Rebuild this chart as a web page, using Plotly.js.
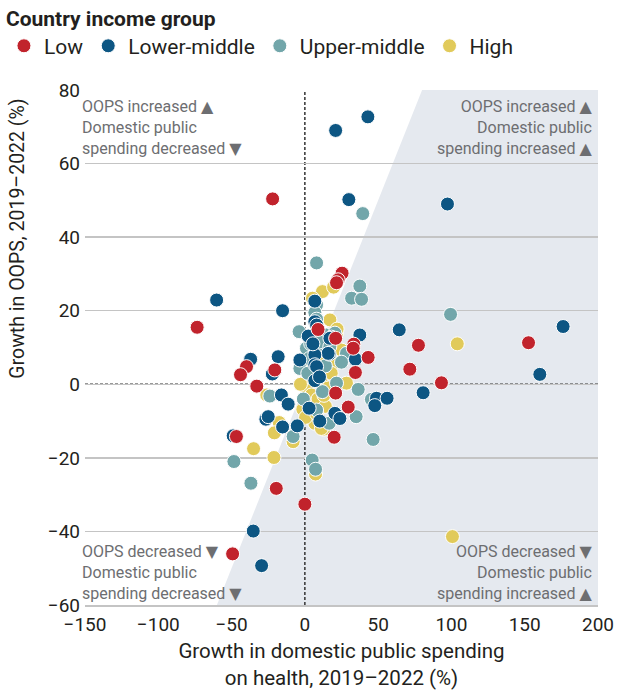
<!DOCTYPE html>
<html>
<head>
<meta charset="utf-8">
<script src="https://cdn.plot.ly/plotly-3.0.1.min.js"></script>
<style>
  html, body { margin: 0; padding: 0; background: #ffffff; }
  #chart { width: 621px; height: 693px; }
</style>
</head>
<body>
<div id="chart"></div>
<script>
// ---- Data ----
const groupNames = ["Low", "Lower-middle", "Upper-middle", "High"];

const lowX = [-22, -73.5, 25.4, 22.7, 21.6, 9, 21, 33.4, 33, 43.2, 34.5, -39.8, -43.9, -20.5, -32.8, 21, 29.6, 20, -46.7, -19.5, 0, -49.3, 77.5, 152.6, 71.6, 93.2];
const lowY = [50.4, 15.5, 30.2, 28.4, 27.6, 14.9, 12.5, 10.9, 9.8, 7.3, 3.2, 4.8, 2.6, 3.9, -0.5, -2.4, -6.2, -14.4, -14.2, -28.3, -32.6, -46.1, 10.6, 11.3, 4.1, 0.4];

const lmX = [21, 43, 30, 97.3, -60.2, -15.2, 6.8, 6.8, 8, 2.3, 18.2, 17.1, 37.5, 16.6, 15.9, 34.5, 6.8, 6.8, 8, -3.4, -18.2, -37, -22.2, 6.8, 64.4, 176.2, 160.3, 80.7, 48.9, 56.1, 47.7, -16, -11.4, 2.9, 20.5, 23.9, 10.2, -26.6, -25, -15.2, -5.2, -48.9, -35.2, -29.5, 5.5, 10];
const lmY = [69, 72.7, 50.2, 49, 22.9, 20, 22.6, 17, 16.1, 13.1, 12.8, 12.5, 13.4, 8.2, 8.4, 6.8, 8, 5.3, 4.8, 6.6, 7.5, 6.8, 2.8, 1.0, 14.8, 15.7, 2.7, -2.3, -3.8, -3.8, -5.8, -2.9, -5.4, -6.5, -7.9, -9.3, -10, -9.5, -8.8, -11.6, -11.3, -14, -39.9, -49.3, 11, 2];

const umX = [8, 39.5, 37.5, 31.9, 38.7, 8, 6.8, 8, -3.9, 14.6, 20.5, 1.1, 12.5, 28.4, -3.4, 12, 36.4, 45.4, -23.9, 8, 35, 16.6, -8, 46.6, 5, 7.3, -48.4, -36.8, 99.4, 21.6, 4, 10, 14, 25, 2, -1, 3, 17];
const umY = [33, 46.4, 26.7, 23.4, 23.1, 21.6, 19.5, 17.7, 14.3, 13.4, 13.9, 9.8, 9.3, 8.4, 4.3, -2, -1.4, -4.1, -3.2, -7, -8.8, -10.6, -14.2, -15, -20.6, -23.1, -21, -26.9, 19, 0.3, 11, 11.5, 5, 6, 3, -4, 7, 10.2];

const hiX = [12, 19.6, 5.2, 17.1, 21.6, 25, 19.3, 28.4, 104, 100.7, -26, 2.3, 6.8, 12.9, -17.5, -20.8, -8, -35, -21.1, 7.3, -1.4, 11.3, -1.4, 1.9, 4.5, 9, 14, 3, 6, 11, 16, 0.5, 8, 13, 18, -3, 4, 10, 22];
const hiY = [25.2, 26.4, 23.4, 17.5, 13.9, 9.3, 5.7, 0.3, 11, -41.4, -2.9, -5.2, -10.6, -12.2, -10.4, -13.2, -15.6, -17.5, -19.9, -24.4, -6.8, -12, 0.3, -1.7, -2.9, -4, -6, 2, 4, 1, -1, -9, -8, -3, 3, 0, 6, 7, 15];

const xTicks = [-150, -100, -50, 0, 50, 100, 150, 200];
const yTicks = [-60, -40, -20, 0, 20, 40, 60, 80];
const xRange = [-150, 200];
const yRange = [-60, 80];

const colors = { "Low": "#c1232c", "Lower-middle": "#0d5683", "Upper-middle": "#72a6aa", "High": "#e1ca5a" };
const FONT = "Roboto, 'DejaVu Sans', sans-serif";
const TXT = "#231f20";
const NOTE = "#6d6e71";

function mk(name, xs, ys) {
  return {
    type: "scatter", mode: "markers", name: name, x: xs, y: ys,
    marker: { size: 14, color: colors[name], line: { color: "#ffffff", width: 1 } },
    hoverinfo: "x+y+name", cliponaxis: false
  };
}
// draw order: High under, Low on top; legend shown reversed
const traces = [
  mk("High", hiX, hiY),
  mk("Upper-middle", umX, umY),
  mk("Lower-middle", lmX, lmY),
  mk("Low", lowX, lowY)
];

// shaded region: right of the line y = x
const shadePath = "M " + yRange[0] + "," + yRange[0] + " L " + yRange[1] + "," + yRange[1] +
  " L " + xRange[1] + "," + yRange[1] + " L " + xRange[1] + "," + yRange[0] + " Z";

const layout = {
  width: 621, height: 693,
  margin: { l: 85, r: 23, t: 90, b: 88, autoexpand: false },
  paper_bgcolor: "#ffffff", plot_bgcolor: "rgba(0,0,0,0)",
  font: { family: FONT, color: TXT, size: 19 },
  showlegend: true,
  legend: {
    orientation: "h", traceorder: "reversed",
    x: -0.158, xanchor: "left", y: 1.178, yanchor: "top",
    font: { family: FONT, size: 21, color: TXT },
    title: { text: "<b>Country income group</b>", side: "top", font: { family: FONT, size: 21, color: TXT } },
    itemwidth: 30, tracegroupgap: 0, bgcolor: "rgba(0,0,0,0)"
  },
  xaxis: {
    range: xRange, tickvals: xTicks, showgrid: false, zeroline: false,
    showline: true, linecolor: "#c4c4c4", linewidth: 1.5,
    ticks: "", tickfont: { size: 19, color: TXT }, fixedrange: true, ticklabelstandoff: 2,
    title: { text: "Growth in domestic public spending<br>on health, 2019\u20132022 (%)", font: { size: 20.5, color: TXT }, standoff: 8 }
  },
  yaxis: {
    range: yRange, tickvals: yTicks, showgrid: true, gridcolor: "#c4c4c4", gridwidth: 1.5,
    zeroline: false, showline: false, ticks: "", tickfont: { size: 19, color: TXT },
    ticklabelstandoff: 4, fixedrange: true
  },
  shapes: [
    { type: "path", xref: "x", yref: "y", path: shadePath, fillcolor: "#e5e9ef", line: { width: 0 }, layer: "below" },
    { type: "line", xref: "x", yref: "y", x0: 0, x1: 0, y0: yRange[0], y1: yRange[1], line: { color: "#333333", width: 1.5, dash: "3px,2px" }, layer: "below" },
    { type: "line", xref: "x", yref: "y", x0: xRange[0], x1: xRange[1], y0: 0, y1: 0, line: { color: "#333333", width: 1.5, dash: "3px,2px" }, layer: "below" }
  ],
  annotations: [
    { xref: "paper", yref: "paper", x: -0.131, y: 0.711, xanchor: "center", yanchor: "middle", textangle: -90,
      text: "Growth in OOPS, 2019\u20132022 (%)", showarrow: false, font: { size: 19.5, color: TXT } },
    { xref: "paper", yref: "paper", x: -0.01, y: 0.99, xanchor: "left", yanchor: "top", align: "left", showarrow: false,
      text: "OOPS increased \u25B2<br>Domestic public<br>spending decreased \u25BC", font: { size: 16, color: NOTE } },
    { xref: "paper", yref: "paper", x: 0.994, y: 0.99, xanchor: "right", yanchor: "top", align: "right", showarrow: false,
      text: "OOPS increased \u25B2<br>Domestic public<br>spending increased \u25B2", font: { size: 16, color: NOTE } },
    { xref: "paper", yref: "paper", x: -0.01, y: 0.127, xanchor: "left", yanchor: "top", align: "left", showarrow: false,
      text: "OOPS decreased \u25BC<br>Domestic public<br>spending decreased \u25BC", font: { size: 16, color: NOTE } },
    { xref: "paper", yref: "paper", x: 0.994, y: 0.127, xanchor: "right", yanchor: "top", align: "right", showarrow: false,
      text: "OOPS decreased \u25BC<br>Domestic public<br>spending increased \u25B2", font: { size: 16, color: NOTE } }
  ]
};

Plotly.newPlot("chart", traces, layout, { displayModeBar: false, staticPlot: true });
</script>
</body>
</html>
